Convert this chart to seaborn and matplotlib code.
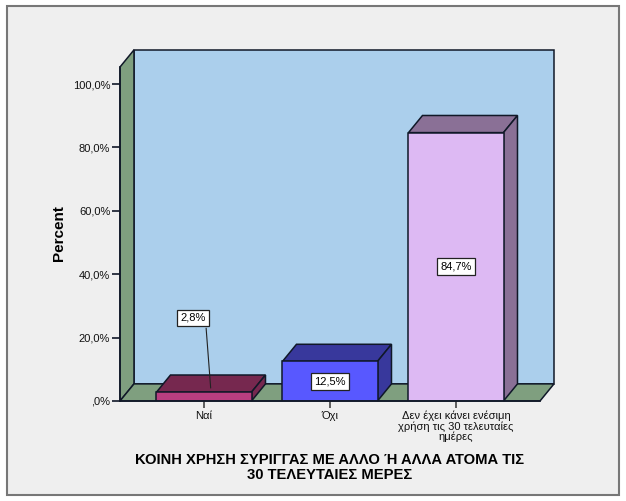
import matplotlib
matplotlib.use('Agg')
import matplotlib.pyplot as plt
import pandas as pd
import seaborn as sns
from matplotlib.patches import Polygon, Rectangle

categories = ['Ναί', 'Όχι', 'Δεν έχει κάνει ενέσιμη\nχρήση τις 30 τελευταίες\nημέρες']
percents = [2.8, 12.5, 84.7]
y_ticks = [0, 20, 40, 60, 80, 100]
y_tick_labels = [',0%', '20,0%', '40,0%', '60,0%', '80,0%', '100,0%']
front_colors = ['#B83E80', '#5858FF', '#DDB9F3']
top_colors = ['#76284F', '#38389C', '#8A7096']
title = 'ΚΟΙΝΗ ΧΡΗΣΗ ΣΥΡΙΓΓΑΣ ΜΕ ΑΛΛΟ Ή ΑΛΛΑ ΑΤΟΜΑ ΤΙΣ\n30 ΤΕΛΕΥΤΑΙΕΣ ΜΕΡΕΣ'

BG = '#EFEFEF'
WALL = '#ABCFEC'
SIDE = '#7F9F7F'
XMIN, XMAX = -2 / 3, 8 / 3
YMAX = 105.4
BAR_W = 0.754
DX, DY = 0.111, 5.4  # fake 3d depth in data units


def face(ax, pts, color, z):
    ax.add_patch(Polygon(pts, closed=True, facecolor=color, edgecolor='#101828',
                         linewidth=1.1, zorder=z, clip_on=False))


def draw_room(ax):
    face(ax, [(XMIN + DX, DY), (XMAX + DX, DY), (XMAX + DX, YMAX + DY), (XMIN + DX, YMAX + DY)], WALL, 0.5)
    face(ax, [(XMIN, 0), (XMIN + DX, DY), (XMIN + DX, YMAX + DY), (XMIN, YMAX)], SIDE, 0.6)
    face(ax, [(XMIN, 0), (XMAX, 0), (XMAX + DX, DY), (XMIN + DX, DY)], SIDE, 0.6)


def draw_depth(ax, i, v, top):
    l, r = i - BAR_W / 2, i + BAR_W / 2
    face(ax, [(l, v), (r, v), (r + DX, v + DY), (l + DX, v + DY)], top, 1)
    face(ax, [(r, 0), (r + DX, DY), (r + DX, v + DY), (r, v)], top, 1)


def main():
    sns.set_style('white')
    plt.rcParams['font.family'] = ['Liberation Sans', 'DejaVu Sans']
    plt.rcParams['text.color'] = 'black'
    plt.rcParams['axes.labelcolor'] = 'black'
    plt.rcParams['xtick.labelcolor'] = '#111111'
    plt.rcParams['ytick.labelcolor'] = '#111111'

    fig = plt.figure(figsize=(6.26, 5.01), dpi=100, facecolor='white')
    fig.add_artist(Rectangle((6.5 / 626, 6.5 / 501), 612 / 626, 489 / 501, transform=fig.transFigure,
                             facecolor=BG, edgecolor='#777777', linewidth=1.5, zorder=-1))
    ax = fig.add_axes([120 / 626, 100 / 501, 420 / 626, 334 / 501])
    ax.patch.set_alpha(0)

    df = pd.DataFrame({'cat': categories, 'pct': percents})
    sns.barplot(data=df, x='cat', y='pct', hue='cat', palette=front_colors, saturation=1,
                width=BAR_W, edgecolor='#101828', linewidth=1.1, legend=False, zorder=2, ax=ax)
    ax.set_xlim(XMIN, XMAX)
    ax.set_ylim(0, YMAX)

    draw_room(ax)
    for i, (v, c) in enumerate(zip(percents, top_colors)):
        draw_depth(ax, i, v, c)

    box = dict(boxstyle='square,pad=0.3', facecolor='white', edgecolor='#222222', linewidth=0.9)
    for i, v in enumerate(percents):
        txt = f'{v:.1f}%'.replace('.', ',')
        if i == 0:
            ax.annotate(txt, xy=(0.053, 4.1), xytext=(-0.087, 26.2), ha='center', va='center',
                        fontsize=8, bbox=box, zorder=5,
                        arrowprops=dict(arrowstyle='-', color='#222222', lw=0.8, relpos=(1, 0), shrinkA=1, shrinkB=0))
        else:
            ax.text(i, v / 2, txt, ha='center', va='center', fontsize=8, bbox=box, zorder=5)

    ax.set_yticks(y_ticks, y_tick_labels)
    ax.tick_params(axis='y', length=6, width=1.2, left=True, labelsize=8, pad=1, color='#101828')
    ax.tick_params(axis='x', length=5, width=1.2, bottom=True, labelsize=8, pad=2, color='#444444')
    for lbl in ax.get_xticklabels():
        lbl.set_linespacing(1.0)

    sns.despine(ax=ax, top=True, right=True)
    for side in ['left', 'bottom']:
        ax.spines[side].set_linewidth(1.2)
        ax.spines[side].set_color('#101828')
        ax.spines[side].set_zorder(3)

    ax.set_ylabel('Percent', fontsize=11, fontweight='bold')
    ax.yaxis.set_label_coords(-0.128, 0.503)
    ax.set_xlabel(title, fontsize=10.6, fontweight='bold', linespacing=1.15)
    ax.xaxis.set_label_coords(0.5, -0.155, transform=ax.transAxes)

    fig.savefig('out.png', dpi=100)
    plt.close(fig)


if __name__ == '__main__':
    main()
